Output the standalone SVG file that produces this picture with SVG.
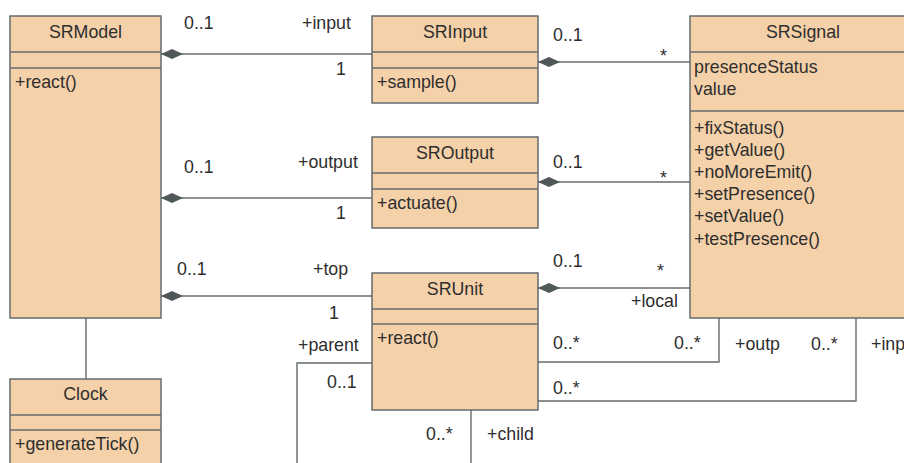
<svg xmlns="http://www.w3.org/2000/svg" width="904" height="463" viewBox="0 0 904 463">
<defs>
<style>
.box{fill:#F5D1A9;stroke:#646B6E;stroke-width:1.5}
.div{stroke:#646B6E;stroke-width:1.5;fill:none}
.ln{stroke:#646B6E;stroke-width:1.4;fill:none}
.dia{fill:#4F5759;stroke:none}
text{font-family:"Liberation Sans",Arial,Helvetica,sans-serif;font-size:17.8px;fill:#2E2E2E}
.t{text-anchor:middle}
</style>
<path id="dm" d="M0,0 L11,-5 L22,0 L11,5 Z"/>
</defs>
<rect x="0" y="0" width="904" height="463" fill="#FFFFFF"/>

<g id="connectors">
<!-- SRModel - Clock -->
<line class="ln" x1="86" y1="318" x2="86" y2="379"/>
<!-- SRModel - SRInput -->
<line class="ln" x1="161" y1="54" x2="372" y2="54"/>
<use href="#dm" class="dia" x="161" y="54"/>
<!-- SRInput - SRSignal -->
<line class="ln" x1="538" y1="62" x2="690" y2="62"/>
<use href="#dm" class="dia" x="538" y="62"/>
<!-- SRModel - SROutput -->
<line class="ln" x1="161" y1="198" x2="372" y2="198"/>
<use href="#dm" class="dia" x="161" y="198"/>
<!-- SROutput - SRSignal -->
<line class="ln" x1="538" y1="182" x2="690" y2="182"/>
<use href="#dm" class="dia" x="538" y="182"/>
<!-- SRModel - SRUnit -->
<line class="ln" x1="161" y1="296" x2="372" y2="296"/>
<use href="#dm" class="dia" x="161" y="296"/>
<!-- SRUnit - SRSignal local -->
<line class="ln" x1="538" y1="288" x2="690" y2="288"/>
<use href="#dm" class="dia" x="538" y="288"/>
<!-- SRUnit - SRSignal outp -->
<polyline class="ln" points="538,362 719,362 719,318"/>
<!-- SRUnit - SRSignal inp -->
<polyline class="ln" points="538,401 856,401 856,318"/>
<!-- SRUnit self (parent/child) -->
<polyline class="ln" points="372,363 297,363 297,470"/>
<line class="ln" x1="471" y1="410" x2="471" y2="470"/>

<g id="labels">
<text x="184" y="29">0..1</text>
<text x="302" y="29">+input</text>
<text x="336" y="75">1</text>
<text x="553" y="41">0..1</text>
<text x="660" y="62">*</text>
<text x="184" y="173">0..1</text>
<text x="298" y="168">+output</text>
<text x="336" y="219">1</text>
<text x="553" y="168">0..1</text>
<text x="660" y="184">*</text>
<text x="177" y="275">0..1</text>
<text x="313" y="275">+top</text>
<text x="329" y="319">1</text>
<text x="553" y="267">0..1</text>
<text x="657" y="277">*</text>
<text x="631" y="307">+local</text>
<text x="298" y="351">+parent</text>
<text x="327" y="388">0..1</text>
<text x="553" y="349">0..*</text>
<text x="674" y="349">0..*</text>
<text x="735" y="350">+outp</text>
<text x="811" y="350">0..*</text>
<text x="871" y="350">+inp</text>
<text x="553" y="394">0..*</text>
<text x="426" y="440">0..*</text>
<text x="487" y="440">+child</text>
</g>
</g>

<g id="SRModel">
<rect class="box" x="10" y="16" width="151" height="302"/>
<line class="div" x1="10" y1="52" x2="161" y2="52"/>
<line class="div" x1="10" y1="68" x2="161" y2="68"/>
<text class="t" x="85.5" y="38">SRModel</text>
<text x="15" y="88">+react()</text>
</g>

<g id="SRInput">
<rect class="box" x="372" y="16" width="166" height="87"/>
<line class="div" x1="372" y1="52" x2="538" y2="52"/>
<line class="div" x1="372" y1="68" x2="538" y2="68"/>
<text class="t" x="455" y="38">SRInput</text>
<text x="377" y="88">+sample()</text>
</g>

<g id="SRSignal">
<rect class="box" x="690" y="16" width="226" height="302"/>
<line class="div" x1="690" y1="52" x2="916" y2="52"/>
<line class="div" x1="690" y1="111" x2="916" y2="111"/>
<text class="t" x="803" y="38">SRSignal</text>
<text x="694" y="73">presenceStatus</text>
<text x="694" y="95">value</text>
<text x="694" y="134">+fixStatus()</text>
<text x="694" y="156">+getValue()</text>
<text x="694" y="178">+noMoreEmit()</text>
<text x="694" y="200">+setPresence()</text>
<text x="694" y="222">+setValue()</text>
<text x="694" y="245">+testPresence()</text>
</g>

<g id="SROutput">
<rect class="box" x="372" y="137" width="166" height="91"/>
<line class="div" x1="372" y1="173" x2="538" y2="173"/>
<line class="div" x1="372" y1="189" x2="538" y2="189"/>
<text class="t" x="455" y="159">SROutput</text>
<text x="377" y="209">+actuate()</text>
</g>

<g id="SRUnit">
<rect class="box" x="372" y="273" width="166" height="137"/>
<line class="div" x1="372" y1="309" x2="538" y2="309"/>
<line class="div" x1="372" y1="324" x2="538" y2="324"/>
<text class="t" x="455" y="295">SRUnit</text>
<text x="377" y="344">+react()</text>
</g>

<g id="Clock">
<rect class="box" x="10" y="379" width="151" height="100"/>
<line class="div" x1="10" y1="415" x2="161" y2="415"/>
<line class="div" x1="10" y1="430" x2="161" y2="430"/>
<text class="t" x="85.5" y="400">Clock</text>
<text x="15" y="450">+generateTick()</text>
</g>
</svg>
